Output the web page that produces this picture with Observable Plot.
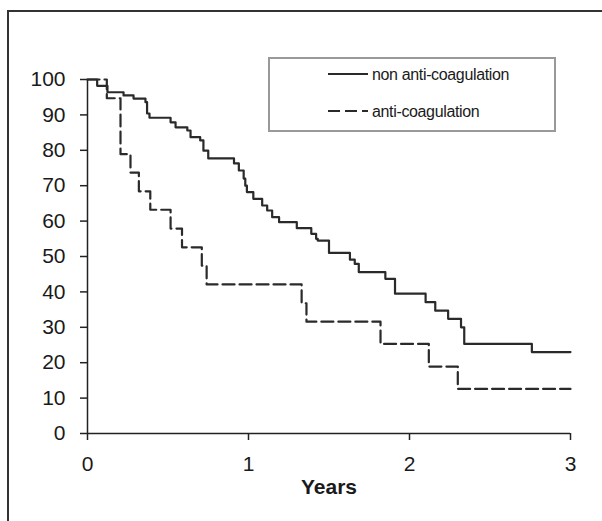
<!DOCTYPE html>
<html><head><meta charset="utf-8">
<script src="https://cdn.jsdelivr.net/npm/d3@7"></script>
<script src="https://cdn.jsdelivr.net/npm/@observablehq/plot@0.6"></script>
<style>
body{margin:0;background:#fff;}
#wrap{position:relative;width:602px;height:521px;overflow:hidden;font-family:"Liberation Sans",Arial,sans-serif;background:#fff;}
#frame{position:absolute;left:7px;top:10px;width:800px;height:800px;border-left:2px solid #333;border-top:2px solid #333;}
#chart{position:absolute;left:0;top:0;}
#legend{position:absolute;left:268px;top:57px;width:284px;height:71px;border:2px solid #999;background:#fff;}
#legend svg{display:block;}
</style></head>
<body>
<div id="wrap"><div id="frame"></div><div id="chart"></div><div id="legend"></div></div>
<script>
const seriesNames = ["non anti-coagulation", "anti-coagulation"];
const yearsNon = [0, 0.06, 0.124, 0.224, 0.286, 0.36, 0.37, 0.385, 0.516, 0.547, 0.62, 0.64, 0.70, 0.72, 0.75, 0.91, 0.94, 0.97, 0.98, 0.99, 1.03, 1.085, 1.116, 1.147, 1.19, 1.30, 1.39, 1.42, 1.43, 1.50, 1.63, 1.66, 1.685, 1.85, 1.91, 2.10, 2.16, 2.24, 2.32, 2.34, 2.76, 3.0];
const survNon  = [100, 98.2, 96.4, 95.5, 94.6, 93.6, 90.4, 89.2, 87.9, 86.5, 85.6, 83.7, 82.8, 79.9, 77.7, 76.3, 74.3, 72.0, 70.0, 68.2, 66.3, 64.4, 63.0, 61.1, 59.7, 58.0, 56.4, 55.0, 54.5, 51.0, 49.1, 47.9, 45.6, 43.7, 39.5, 37.1, 34.7, 32.4, 30.0, 25.3, 23.0, 23.0];
const yearsAnti = [0, 0.12, 0.205, 0.267, 0.319, 0.39, 0.516, 0.587, 0.71, 0.74, 1.33, 1.36, 1.82, 2.12, 2.30, 3.0];
const survAnti  = [100, 94.7, 78.9, 73.7, 68.4, 63.2, 57.9, 52.6, 47.4, 42.1, 36.8, 31.6, 25.3, 18.9, 12.6, 12.6];
const xTicks = [0, 1, 2, 3];
const yTicks = [0, 10, 20, 30, 40, 50, 60, 70, 80, 90, 100];
const xLabel = "Years";

const non = yearsNon.map((t, i) => ({t, s: survNon[i], g: seriesNames[0]}));
const anti = yearsAnti.map((t, i) => ({t, s: survAnti[i], g: seriesNames[1]}));

const font = "Liberation Sans, Arial, sans-serif";
const plot = Plot.plot({
  width: 602, height: 521,
  marginLeft: 87, marginRight: 32, marginTop: 79, marginBottom: 88,
  style: {fontFamily: font, background: "transparent", color: "#1a1a1a"},
  x: {domain: [0, 3]},
  y: {domain: [0, 100]},
  marks: [
    Plot.axisX({ticks: xTicks, tickSize: 7, tickPadding: 16, fontSize: 21, label: null, stroke: "#222", strokeWidth: 1.5, tickFormat: d => String(d)}),
    Plot.axisY({ticks: yTicks, tickSize: 7, tickPadding: 15, fontSize: 21, label: null, stroke: "#222", strokeWidth: 1.5, tickFormat: d => String(d)}),
    Plot.ruleY([0], {stroke: "#222", strokeWidth: 1.5}),
    Plot.ruleX([0], {stroke: "#222", strokeWidth: 1.5}),
    Plot.line(non, {x: "t", y: "s", curve: "step-after", stroke: "#2a2a2a", strokeWidth: 2.2}),
    Plot.line(anti, {x: "t", y: "s", curve: "step-after", stroke: "#2a2a2a", strokeWidth: 2.2, strokeDasharray: "12,5"}),
    Plot.text([xLabel], {frameAnchor: "bottom", dy: 60, text: d => d, fontSize: 21, fontWeight: "bold", fill: "#1a1a1a"})
  ]
});
document.getElementById("chart").appendChild(plot);

// legend
const lg = d3.select("#legend").append("svg").attr("width", 284).attr("height", 71);
const rows = [{name: seriesNames[0], dash: null, y: 15}, {name: seriesNames[1], dash: "12,5", y: 52}];
rows.forEach(r => {
  lg.append("line").attr("x1", 58).attr("x2", 98).attr("y1", r.y).attr("y2", r.y)
    .attr("stroke", "#2a2a2a").attr("stroke-width", 2).attr("stroke-dasharray", r.dash);
  lg.append("text").attr("x", 102).attr("y", r.y).attr("dy", "0.35em")
    .attr("font-family", font).attr("letter-spacing", "-0.35px")
    .attr("font-size", 16).attr("fill", "#1a1a1a").text(r.name);
});
</script>
</body></html>
